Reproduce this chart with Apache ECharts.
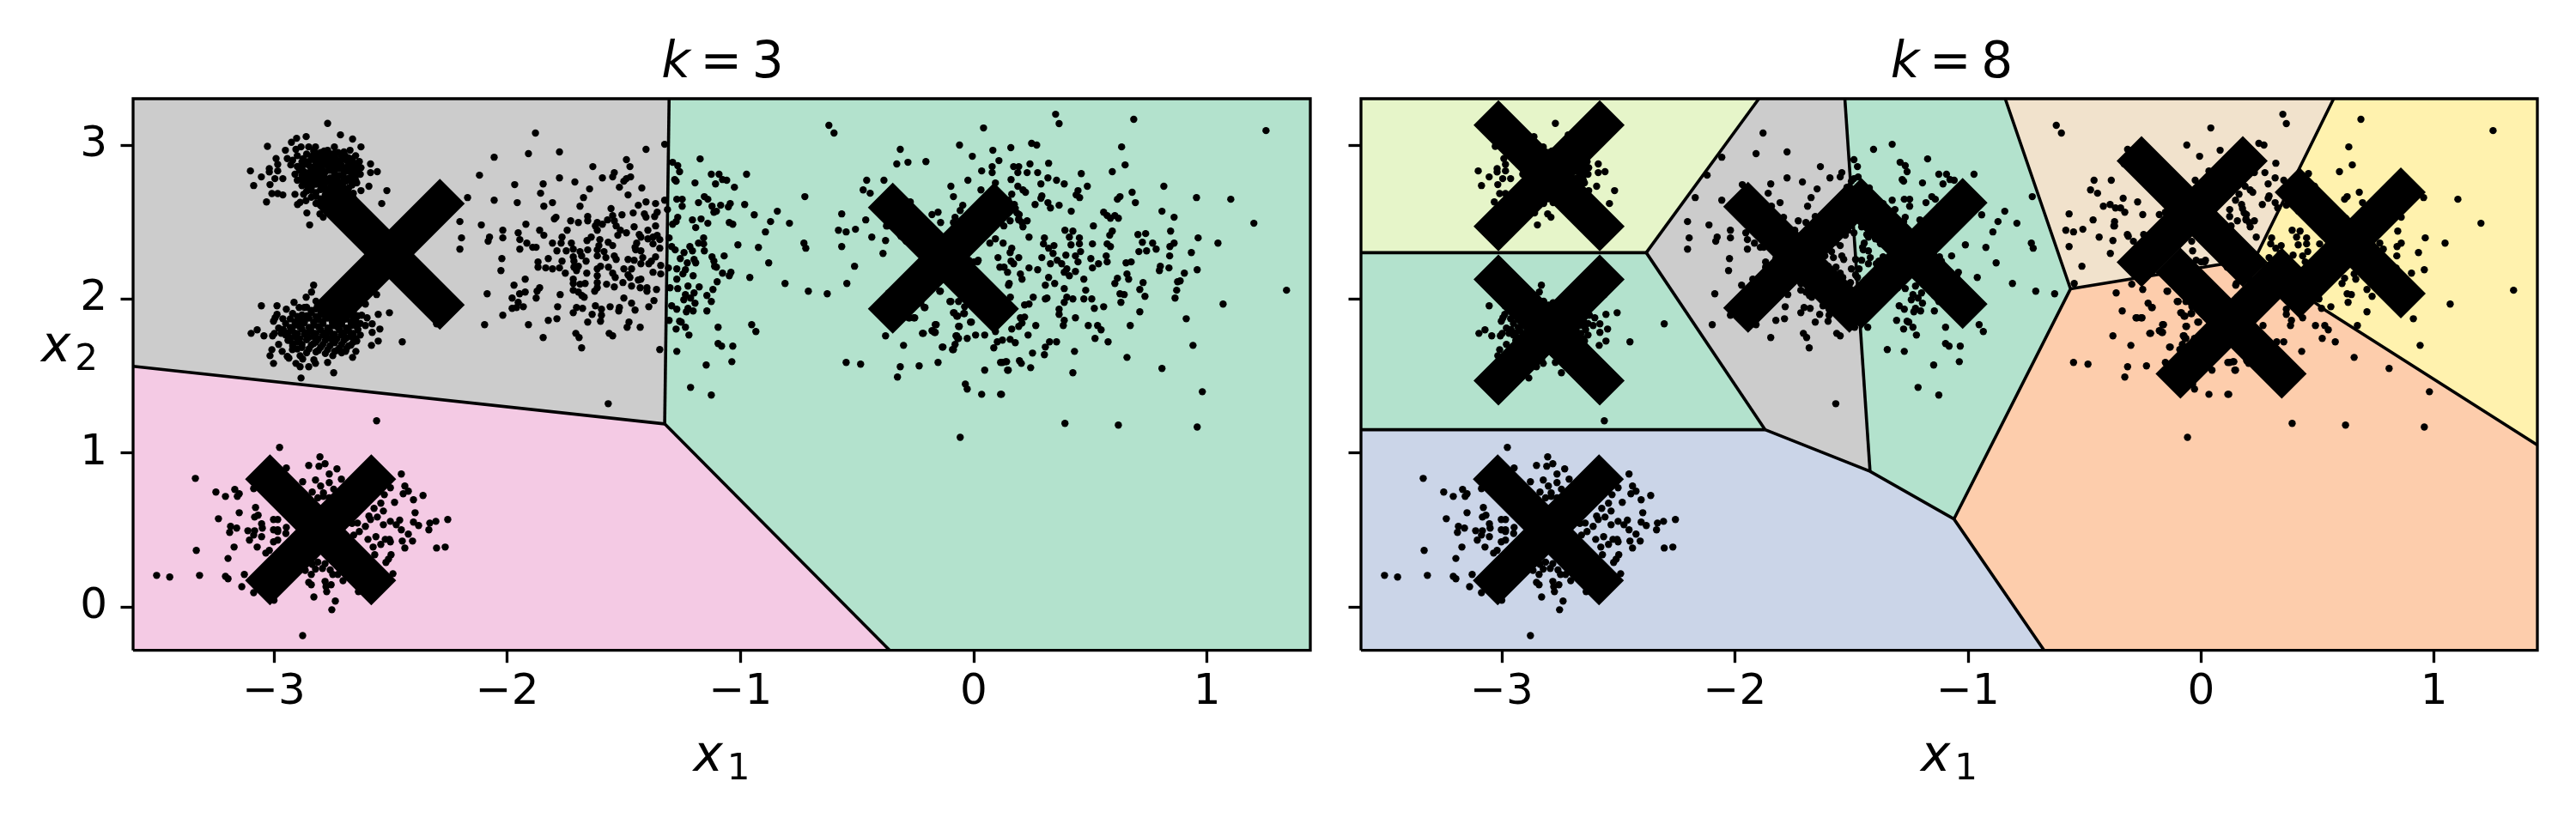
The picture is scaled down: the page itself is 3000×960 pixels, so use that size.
<!DOCTYPE html>
<html>
<head>
<meta charset="utf-8">
<style>html,body{margin:0;padding:0;background:#fff}#c{width:3000px;height:960px}</style>
<script src="https://cdn.jsdelivr.net/npm/echarts@6/dist/echarts.min.js"></script>
</head>
<body>
<div id="c"></div>
<script>
const xMin = -3.604, xMax = 1.443, yMin = -0.283, yMax = 3.3;
const xTicks = [-3, -2, -1, 0, 1];
const yTicks = [0, 1, 2, 3];
const panelTitles = ['3', '8'];

// Cluster centres
const centroidsK3 = [[-2.506, 2.29], [-0.13, 2.265], [-2.80, 0.50]];
const centroidsK8 = [[-2.797, 2.80], [-2.797, 1.797], [-2.80, 0.50], [-1.726, 2.27], [-1.24, 2.295], [-0.038, 2.567], [0.64, 2.364], [0.129, 1.842]];

// Decision regions
const regionsK3 = [
  {fill:'#cccccc', pts:[[xMin,yMax],[-1.306,yMax],[-1.325,1.188],[xMin,1.562]]},
  {fill:'#b3e2cd', pts:[[-1.306,yMax],[xMax,yMax],[xMax,yMin],[-0.36,yMin],[-1.325,1.188]]},
  {fill:'#f4cae4', pts:[[xMin,1.562],[-1.325,1.188],[-0.36,yMin],[xMin,yMin]]}
];
const regionsK8 = [
  {fill:'#e6f5c9', pts:[[xMin,yMax],[-1.897,yMax],[-2.38,2.30],[xMin,2.30]]},
  {fill:'#b3e2cd', pts:[[xMin,2.30],[-2.38,2.30],[-1.87,1.15],[xMin,1.15]]},
  {fill:'#cbd5e8', pts:[[xMin,1.15],[-1.87,1.15],[-1.42,0.88],[-1.06,0.57],[-0.673,yMin],[xMin,yMin]]},
  {fill:'#cccccc', pts:[[-2.38,2.30],[-1.897,yMax],[-1.528,yMax],[-1.42,0.88],[-1.87,1.15]]},
  {fill:'#b3e2cd', pts:[[-1.528,yMax],[-0.84,yMax],[-0.56,2.065],[-1.06,0.57],[-1.42,0.88]]},
  {fill:'#f1e2cc', pts:[[-0.84,yMax],[0.569,yMax],[0.231,2.26],[-0.56,2.065]]},
  {fill:'#fff2ae', pts:[[0.569,yMax],[xMax,yMax],[xMax,1.05],[0.534,1.926],[0.231,2.26]]},
  {fill:'#fdcdac', pts:[[-0.56,2.065],[0.231,2.26],[0.534,1.926],[xMax,1.05],[xMax,yMin],[-0.673,yMin],[-1.06,0.57]]}
];

// Boundaries between regions
const edgesK3 = [
  [[-1.306,yMax],[-1.325,1.188]],
  [[xMin,1.562],[-1.325,1.188]],
  [[-1.325,1.188],[-0.36,yMin]]
];
const edgesK8 = [
  [[xMin,2.30],[-2.38,2.30]],
  [[-1.897,yMax],[-2.38,2.30]],
  [[-2.38,2.30],[-1.87,1.15]],
  [[xMin,1.15],[-1.87,1.15]],
  [[-1.87,1.15],[-1.42,0.88],[-1.06,0.57],[-0.673,yMin]],
  [[-1.528,yMax],[-1.42,0.88]],
  [[-0.84,yMax],[-0.56,2.065],[-1.06,0.57]],
  [[-0.56,2.065],[0.231,2.26]],
  [[0.569,yMax],[0.231,2.26],[0.534,1.926],[xMax,1.05]]
];

// Points
const upperBlob = [
[-2.77,3.14],[-2.715,3.065],[-2.663,3.038],[-2.627,2.987],[-2.862,3.054],[-2.903,3.043],[-2.925,3.017],[-3.028,2.991],[-2.951,2.965],[-2.991,2.911],[-3.101,2.831],[-3.054,2.792],[-3.087,2.736],[-3.02,2.846],[-3.02,2.824],[-2.984,2.874],[-2.984,2.831],[-3.017,2.742],[-2.996,2.781],[-2.962,2.781],[-3.009,2.684],[-2.984,2.684],[-2.962,2.675],[-3.032,2.63],[-2.91,2.679],[-2.899,2.613],[-2.888,2.627],[-2.859,2.558],[-2.847,2.48],[-2.803,2.552],[-2.789,2.53],[-2.538,2.619],[-2.516,2.703],[-2.586,2.876],[-2.586,2.82],[-2.557,2.826],[-2.63,2.809],[-2.627,2.852],[-2.593,2.731],[-2.627,2.703],[-2.645,2.753],[-2.674,2.965],[-2.741,2.987],[-2.822,2.987],[-2.851,2.987],[-2.884,2.987],[-2.906,2.971],[-2.943,2.911],[-2.928,2.87],[-2.91,2.809],[-2.873,2.679],[-2.863,2.638],[-2.634,2.892],
[-2.83,2.96],[-2.80,2.95],[-2.77,2.965],[-2.74,2.945],[-2.70,2.955],[-2.90,2.93],[-2.86,2.94],[-2.82,2.92],[-2.79,2.935],[-2.75,2.92],[-2.71,2.93],[-2.68,2.915],[-2.65,2.93],[-2.92,2.90],[-2.88,2.89],[-2.84,2.905],[-2.80,2.89],[-2.77,2.905],[-2.73,2.885],[-2.69,2.90],[-2.66,2.885],[-2.90,2.86],[-2.86,2.875],[-2.83,2.855],[-2.79,2.87],[-2.75,2.85],[-2.71,2.865],[-2.67,2.85],[-2.64,2.865],[-2.89,2.835],[-2.85,2.82],[-2.81,2.84],[-2.78,2.825],[-2.74,2.83],[-2.70,2.82],[-2.66,2.835],[-2.88,2.80],[-2.84,2.79],[-2.80,2.805],[-2.76,2.785],[-2.72,2.80],[-2.68,2.785],[-2.65,2.80],[-2.90,2.77],[-2.86,2.76],[-2.82,2.775],[-2.78,2.755],[-2.75,2.77],[-2.71,2.755],[-2.67,2.765],[-2.88,2.735],[-2.84,2.725],[-2.80,2.74],[-2.76,2.72],[-2.72,2.735],[-2.68,2.72],[-2.86,2.70],[-2.82,2.69],[-2.78,2.705],[-2.74,2.69],[-2.70,2.70],[-2.66,2.685],[-2.84,2.66],[-2.80,2.65],[-2.76,2.665],[-2.72,2.655],[-2.68,2.66],[-2.82,2.62],[-2.78,2.625],[-2.74,2.61],[-2.70,2.625]
];
const upperBlobCore = [
[-2.815,2.945],[-2.785,2.96],[-2.755,2.94],[-2.725,2.95],[-2.695,2.93],[-2.84,2.925],[-2.805,2.91],[-2.77,2.925],[-2.735,2.91],[-2.70,2.915],[-2.665,2.91],[-2.875,2.91],[-2.855,2.89],[-2.82,2.885],[-2.785,2.9],[-2.75,2.885],[-2.715,2.895],[-2.68,2.875],[-2.645,2.88],[-2.88,2.855],[-2.845,2.86],[-2.81,2.87],[-2.77,2.865],[-2.735,2.865],[-2.695,2.85],[-2.655,2.85],[-2.87,2.825],[-2.835,2.83],[-2.795,2.845],[-2.76,2.835],[-2.72,2.845],[-2.68,2.83],[-2.645,2.83],[-2.86,2.795],[-2.82,2.805],[-2.785,2.79],[-2.74,2.805],[-2.70,2.785],[-2.665,2.8],[-2.88,2.775],[-2.84,2.765],[-2.80,2.77],[-2.765,2.76],[-2.73,2.775],[-2.69,2.765],[-2.65,2.77],[-2.86,2.74],[-2.82,2.745],[-2.785,2.73],[-2.745,2.745],[-2.705,2.73],[-2.665,2.74],[-2.84,2.705],[-2.80,2.71],[-2.76,2.695],[-2.72,2.71],[-2.685,2.695],[-2.82,2.665],[-2.78,2.675],[-2.74,2.66],[-2.70,2.665],[-2.66,2.655]
];
const lowerBlob = [
[-2.83,2.089],[-2.839,2.044],[-2.862,2.011],[-2.914,1.977],[-2.987,1.955],[-3.054,1.955],[-2.947,1.933],[-2.892,1.944],[-2.87,1.944],[-2.987,1.899],[-2.995,1.877],[-3.002,1.855],[-2.962,1.871],[-3.072,1.799],[-3.098,1.776],[-3.043,1.76],[-3.006,1.76],[-2.998,1.776],[-2.98,1.81],[-2.969,1.776],[-2.98,1.704],[-3.009,1.67],[-3.017,1.631],[-3.002,1.581],[-2.965,1.659],[-2.943,1.626],[-2.936,1.615],[-2.921,1.67],[-2.906,1.581],[-2.888,1.559],[-2.888,1.631],[-2.877,1.609],[-2.851,1.559],[-2.822,1.581],[-2.829,1.604],[-2.77,1.587],[-2.884,1.486],[-2.744,1.52],[-2.663,1.62],[-2.649,1.659],[-2.693,1.659],[-2.748,1.631],[-2.582,1.698],[-2.553,1.726],[-2.45,1.721],[-2.546,1.804],[-2.579,1.782],[-2.601,1.877],[-2.553,1.899],[-2.505,1.91],[-2.56,2.028],[-2.608,1.966],[-2.624,1.894],[-2.579,1.838],[-2.608,1.827],[-2.645,1.726],[-2.303,1.838],[-2.17,2.658],
[-2.82,1.985],[-2.78,1.975],[-2.74,1.99],[-2.86,1.945],[-2.82,1.935],[-2.78,1.95],[-2.74,1.94],[-2.70,1.955],[-2.66,1.94],[-2.92,1.905],[-2.88,1.895],[-2.84,1.91],[-2.80,1.90],[-2.76,1.91],[-2.72,1.895],[-2.68,1.905],[-2.64,1.89],[-2.93,1.87],[-2.89,1.86],[-2.85,1.875],[-2.81,1.865],[-2.77,1.875],[-2.73,1.86],[-2.69,1.87],[-2.65,1.86],[-2.95,1.84],[-2.91,1.83],[-2.87,1.845],[-2.83,1.83],[-2.79,1.84],[-2.75,1.825],[-2.71,1.835],[-2.67,1.825],[-2.63,1.84],[-2.96,1.80],[-2.92,1.79],[-2.88,1.805],[-2.84,1.79],[-2.80,1.80],[-2.76,1.785],[-2.72,1.80],[-2.68,1.79],[-2.64,1.80],[-2.95,1.765],[-2.91,1.755],[-2.87,1.77],[-2.83,1.755],[-2.79,1.765],[-2.75,1.75],[-2.71,1.765],[-2.67,1.755],[-2.63,1.765],[-2.94,1.73],[-2.90,1.72],[-2.86,1.735],[-2.82,1.72],[-2.78,1.73],[-2.74,1.715],[-2.70,1.73],[-2.66,1.72],[-2.92,1.695],[-2.88,1.685],[-2.84,1.70],[-2.80,1.685],[-2.76,1.695],[-2.72,1.68],[-2.68,1.695],[-2.86,1.65],[-2.82,1.655],[-2.78,1.645],[-2.74,1.66],[-2.71,1.65]
];
const lowerBlobCore = [
[-2.80,1.96],[-2.76,1.965],[-2.72,1.93],[-2.84,1.925],[-2.80,1.925],[-2.76,1.93],[-2.70,1.92],[-2.66,1.915],[-2.90,1.885],[-2.86,1.89],[-2.82,1.885],[-2.78,1.89],[-2.74,1.885],[-2.70,1.885],[-2.66,1.88],[-2.91,1.85],[-2.87,1.855],[-2.83,1.85],[-2.79,1.855],[-2.75,1.85],[-2.71,1.855],[-2.67,1.85],[-2.93,1.815],[-2.89,1.82],[-2.85,1.815],[-2.81,1.82],[-2.77,1.81],[-2.73,1.82],[-2.69,1.81],[-2.65,1.825],[-2.94,1.78],[-2.90,1.775],[-2.86,1.78],[-2.82,1.775],[-2.78,1.78],[-2.74,1.77],[-2.70,1.78],[-2.66,1.775],[-2.93,1.745],[-2.89,1.74],[-2.85,1.75],[-2.81,1.74],[-2.77,1.745],[-2.73,1.74],[-2.69,1.745],[-2.65,1.74],[-2.92,1.71],[-2.88,1.705],[-2.83,1.71],[-2.79,1.705],[-2.75,1.73],[-2.71,1.705],[-2.67,1.70],[-2.90,1.675],[-2.85,1.675],[-2.81,1.665],[-2.77,1.67],[-2.73,1.665],[-2.69,1.675]
];
const bottomBlob = [
[-2.56,1.208],[-2.976,1.035],[-2.803,0.974],[-2.781,0.929],[-2.807,0.913],[-2.851,0.918],[-2.73,0.896],[-2.947,0.901],[-2.763,0.862],[-2.454,0.862],[-3.337,0.834],[-2.822,0.823],[-2.711,0.829],[-2.763,0.807],[-2.877,0.812],[-2.439,0.784],[-2.8,0.784],[-2.424,0.751],[-3.249,0.745],[-3.168,0.762],[-3.087,0.768],[-3.149,0.734],[-3.157,0.717],[-3.208,0.717],[-2.836,0.745],[-2.788,0.74],[-2.788,0.717],[-2.744,0.764],[-2.501,0.773],[-2.527,0.728],[-2.446,0.734],[-2.361,0.723],[-2.402,0.695],[-2.483,0.678],[-2.542,0.673],[-2.571,0.639],[-2.531,0.622],[-3.079,0.645],[-3.149,0.611],[-2.395,0.611],[-3.068,0.595],[-3.083,0.583],[-3.238,0.572],[-2.593,0.589],[-2.557,0.583],[-2.586,0.567],[-2.255,0.567],[-3.002,0.567],[-2.984,0.567],[-2.501,0.555],[-2.461,0.563],[-2.306,0.555],[-2.332,0.544],[-2.402,0.55],[-2.531,0.533],[-2.476,0.533],[-2.38,0.528],[-3.053,0.539],[-3.186,0.522],[-3.16,0.511],[-3.19,0.483],[-3.112,0.494],[-2.336,0.5],[-2.454,0.5],[-3.083,0.494],[-3.05,0.511],[-3.002,0.5],[-2.984,0.5],[-2.947,0.516],[-2.949,0.476],[-2.608,0.522],[-2.642,0.544],[-2.634,0.489],[-2.424,0.472],[-3.087,0.466],[-3.053,0.455],[-2.984,0.488],[-2.563,0.455],[-2.523,0.438],[-2.505,0.438],[-2.501,0.422],[-3.105,0.433],[-2.45,0.427],[-2.406,0.427],[-3.002,0.422],[-2.984,0.433],[-2.542,0.405],[-2.575,0.388],[-2.597,0.438],[-3.072,0.388],[-3.171,0.388],[-2.439,0.382],[-3.333,0.366],[-2.303,0.382],[-2.266,0.388],[-3.02,0.366],[-3.035,0.349],[-2.568,0.338],[-2.498,0.338],[-3.197,0.314],[-2.509,0.31],[-2.52,0.288],[-2.822,0.245],[-2.792,0.249],[-2.759,0.239],[-2.866,0.237],[-2.836,0.276],[-3.127,0.21],[-2.84,0.21],[-2.748,0.21],[-2.726,0.21],[-2.49,0.215],[-3.319,0.204],[-3.503,0.204],[-3.447,0.193],[-3.208,0.198],[-3.197,0.182],[-2.704,0.17],[-2.851,0.159],[-2.84,0.143],[-2.781,0.165],[-2.755,0.143],[-2.777,0.131],[-2.774,0.098],[-3.138,0.131],[-3.087,0.092],[-2.638,0.098],[-2.829,0.064],[-2.737,0.037],[-3.0,0.042],[-2.752,-0.019],[-2.877,-0.187],[-2.812,0.708],[-2.763,0.708],[-2.665,0.541],[-2.658,0.466],[-2.812,0.29],[-2.781,0.28]
];
const middleCluster = [
[-1.879,3.077],[-1.909,2.943],[-1.776,2.954],[-2.056,2.92],[-2.119,2.803],[-1.405,2.971],[-1.489,2.904],[-1.474,2.859],[-1.633,2.859],[-1.541,2.82],[-1.548,2.792],[-1.592,2.786],[-1.776,2.786],[-1.71,2.759],[-1.846,2.747],[-1.968,2.742],[-1.471,2.792],[-1.489,2.781],[-1.5,2.764],[-1.519,2.725],[-1.423,2.72],[-1.647,2.714],[-1.857,2.686],[-1.482,2.675],[-1.673,2.658],[-2.056,2.641],[-1.957,2.625],[-1.806,2.625],[-1.843,2.602],[-1.688,2.602],[-1.405,2.63],[-1.438,2.608],[-1.364,2.619],[-1.555,2.586],[-1.357,2.563],[-1.46,2.558],[-1.508,2.546],[-1.412,2.552],[-1.405,2.53],[-1.368,2.535],[-1.655,2.535],[-1.791,2.53],[-1.798,2.519],[-1.548,2.541],[-1.541,2.507],[-1.57,2.513],[-1.728,2.507],[-1.695,2.496],[-1.655,2.507],[-1.614,2.496],[-1.592,2.485],[-1.622,2.474],[-1.533,2.474],[-2.203,2.502],[-2.111,2.48],[-1.92,2.485],[-1.456,2.468],[-1.364,2.474],[-1.614,2.446],[-1.515,2.446],[-1.489,2.429],[-1.861,2.446],[-1.743,2.446],[-1.397,2.446],[-1.953,2.429],[-2.019,2.446],[-1.526,2.413],[-1.434,2.418],[-1.843,2.413],[-1.357,2.413],[-1.765,2.401],[-1.64,2.401],[-1.427,2.401],[-1.397,2.39],[-1.375,2.401],[-2.196,2.396],[-2.076,2.401],[-2.082,2.374],[-2.019,2.396],[-1.946,2.385],[-1.658,2.379],[-1.603,2.385],[-1.346,2.385],[-1.567,2.368],[-1.916,2.362],[-1.806,2.362],[-1.769,2.362],[-1.725,2.362],[-1.445,2.362],[-1.375,2.357],[-1.607,2.346],[-1.548,2.346],[-1.891,2.335],[-1.876,2.335],[-1.452,2.335],[-1.346,2.329],[-2.203,2.323],[-1.946,2.323],[-1.787,2.312],[-1.747,2.312],[-1.717,2.323],[-1.688,2.307],[-1.655,2.318],[-1.614,2.318],[-1.585,2.307],[-1.449,2.318],[-1.427,2.312],[-1.717,2.273],[-1.681,2.279],[-1.614,2.279],[-1.577,2.268],[-1.541,2.279],[-1.364,2.273],[-1.419,2.268],[-2.023,2.262],[-1.824,2.262],[-1.533,2.256],[-1.482,2.256],[-1.456,2.251],[-1.382,2.245],[-1.868,2.24],[-1.765,2.245],[-1.714,2.245],[-1.662,2.245],[-1.427,2.228],[-1.393,2.228],[-1.342,2.217],[-1.868,2.206],[-1.835,2.201],[-1.806,2.195],[-1.776,2.201],[-1.714,2.206],[-1.695,2.212],[-1.6,2.212],[-1.566,2.206],[-1.614,2.195],[-1.5,2.195],[-1.467,2.195],[-2.027,2.184],[-1.703,2.184],[-1.751,2.167],[-1.659,2.167],[-1.548,2.167],[-1.614,2.15],[-1.482,2.156],[-1.375,2.173],[-1.342,2.162],[-1.537,2.139],[-1.474,2.139],[-1.923,2.128],[-1.717,2.128],[-1.427,2.128],[-1.438,2.122],[-1.614,2.106],[-1.504,2.106],[-1.717,2.1],[-1.666,2.1],[-1.971,2.089],[-1.688,2.095],[-1.574,2.095],[-1.467,2.083],[-1.541,2.078],[-1.861,2.072],[-1.43,2.072],[-1.401,2.072],[-1.401,2.05],[-1.36,2.061],[-1.614,2.072],[-1.717,2.056],[-1.625,2.05],[-1.872,2.05],[-1.923,2.044],[-1.695,2.044],[-1.947,2.033],[-2.086,2.033],[-1.773,2.028],[-1.68,2.022],[-1.67,2.011],[-1.979,2.005],[-1.876,2.005],[-1.5,2.005],[-1.371,1.989],[-1.953,1.977],[-1.467,1.972],[-1.931,1.949],[-1.784,1.949],[-1.622,1.955],[-1.559,1.949],[-1.393,1.949],[-1.979,1.938],[-1.96,1.944],[-1.703,1.944],[-1.677,1.938],[-1.596,1.933],[-1.519,1.944],[-1.522,1.922],[-1.452,1.927],[-1.717,1.91],[-1.596,1.894],[-2.019,1.894],[-1.636,1.899],[-1.787,1.871],[-1.824,1.86],[-1.6,1.855],[-1.655,1.849],[-1.478,1.849],[-2.097,1.832],[-1.909,1.832],[-1.486,1.816],[-1.43,1.816],[-1.706,1.776],[-1.563,1.776],[-1.548,1.76],[-1.846,1.749],[-1.692,1.749],[-1.681,1.682],[-1.346,1.671],[-1.567,1.319]
];
const centreCluster = [
[-0.621,3.127],[-0.599,3.077],[0.042,3.11],[-0.061,2.999],[-1.325,3.004],[-0.315,2.971],[-1.173,2.909],[-0.006,2.926],[-1.291,2.887],[-1.269,2.865],[-0.33,2.876],[-0.282,2.887],[-0.205,2.892],[-1.261,2.826],[0.034,2.831],[-1.125,2.809],[-1.092,2.809],[-0.974,2.809],[-1.282,2.775],[-1.276,2.764],[-1.195,2.753],[-1.107,2.747],[-1.077,2.775],[-1.059,2.77],[-1.026,2.725],[-0.459,2.77],[-0.385,2.77],[-0.025,2.77],[-0.098,2.731],[-0.474,2.708],[-0.444,2.686],[0.031,2.708],[-0.724,2.664],[-0.087,2.664],[-1.325,2.641],[-1.273,2.647],[-1.25,2.647],[-1.155,2.664],[-1.14,2.647],[-1.18,2.625],[-1.25,2.602],[-1.122,2.602],[-1.085,2.608],[-1.044,2.619],[-1.052,2.597],[-0.982,2.613],[-1.313,2.58],[-1.103,2.569],[-1.114,2.563],[-0.842,2.569],[-0.941,2.546],[-0.566,2.552],[-1.269,2.53],[-1.276,2.502],[-1.291,2.485],[-1.206,2.513],[-1.169,2.519],[-0.871,2.502],[-0.463,2.513],[-1.14,2.491],[-1.048,2.496],[-1.033,2.485],[-0.79,2.491],[-1.192,2.463],[-0.507,2.452],[-0.58,2.446],[-0.547,2.435],[-0.893,2.435],[-0.374,2.474],[-1.306,2.396],[-1.158,2.396],[-0.437,2.401],[-0.378,2.379],[-1.18,2.362],[-1.158,2.357],[-1.011,2.351],[-0.728,2.362],[-0.72,2.329],[-0.566,2.34],[-1.217,2.34],[-1.295,2.34],[-1.206,2.312],[-0.923,2.334],[-1.28,2.318],[-1.242,2.301],[-1.155,2.312],[-0.389,2.295],[-1.07,2.279],[-1.122,2.273],[-1.258,2.262],[-1.199,2.256],[-1.114,2.245],[-1.228,2.234],[-1.192,2.234],[-0.879,2.234],[-1.111,2.212],[-1.103,2.206],[-0.511,2.212],[-1.309,2.201],[-1.273,2.195],[-1.236,2.189],[-1.041,2.173],[-1.077,2.167],[-1.247,2.162],[-1.048,2.15],[-1.203,2.15],[-0.96,2.139],[-1.273,2.128],[-1.1,2.111],[-0.809,2.1],[-0.544,2.1],[-1.225,2.083],[-1.177,2.078],[-1.302,2.072],[-1.269,2.067],[-1.118,2.061],[-0.709,2.05],[-0.628,2.033],[-1.199,2.039],[-1.236,2.028],[-1.144,2.022],[-1.214,2.005],[-1.243,1.994],[-1.125,1.983],[-1.195,1.972],[-1.295,1.955],[-1.273,1.933],[-1.225,1.938],[-1.203,1.922],[-1.232,1.916],[-1.144,1.922],[-1.306,1.86],[-1.261,1.855],[-1.254,1.849],[-1.236,1.816],[-1.276,1.804],[-1.096,1.816],[-0.952,1.832],[-0.934,1.788],[-1.221,1.765],[-0.378,1.76],[-1.096,1.71],[-1.081,1.693],[-1.033,1.693],[-0.301,1.698],[-1.273,1.659],[-1.037,1.592],[-1.147,1.57],[-0.547,1.587],[-0.485,1.576],[-0.315,1.559],[-0.327,1.492],[-0.234,1.565],[-0.153,1.587],[-1.214,1.425],[-1.125,1.375],[-0.036,1.447],[-0.028,1.414],[0.034,1.38],[-0.058,1.101],[0.047,1.537],
[-0.179,2.547],[-0.153,2.563],[-0.142,2.496],[-0.047,2.608],[-0.058,2.574],[-0.08,2.53],[-0.087,2.496],[-0.102,1.983],[-0.065,1.983],[-0.212,1.944],[-0.257,1.877],[-0.279,1.877],[-0.146,2.05],[0.016,2.24],[-0.039,1.949],[-0.087,1.91],[-0.073,1.888],[-0.043,1.905],[-0.014,1.849],[-0.065,1.821],[-0.165,1.832],[-0.179,1.793],[-0.168,1.782],[-0.22,1.776],[-0.076,1.76],[-0.069,1.743],[-0.028,1.743],[0.008,1.765],[0.047,1.765],[-0.08,1.704],[-0.091,1.671],[-0.135,1.687],
[-0.334,2.653],[-0.272,2.63],[-0.25,2.547],[-0.419,2.602],[-0.39,2.613],[-0.367,2.591],[-0.345,2.591],[-0.327,2.563],[-0.371,2.502],[-0.371,2.474],[-0.316,2.418],[-0.312,2.407],[-0.29,2.374],[-0.246,2.418],[-0.036,2.312],[-0.04,2.374],[-0.021,2.251],[0.0,2.24],[0.019,2.251],[-0.297,2.095],[-0.25,2.061],[-0.364,2.039],[-0.338,1.922],[-0.275,1.877],[-0.253,1.877],[-0.227,1.972],[-0.209,1.944],[-0.143,2.05],[-0.098,1.983],[-0.161,1.832],[-0.172,1.788],[-0.165,1.782],[-0.216,1.776],[-0.084,1.91],[-0.069,1.888],[-0.04,1.905],[-0.01,1.849],[-0.062,1.821],[-0.073,1.76],[-0.065,1.743],[-0.132,1.687],[-0.087,1.671],[0.123,1.587],[0.141,1.592],[0.148,1.537],[0.119,1.38]
];
const rightCluster = [
[0.351,3.199],[0.366,3.138],[0.686,3.166],[1.253,3.093],[0.082,2.965],[0.159,2.982],[0.248,3.01],[0.27,2.999],[0.634,2.987],[0.108,2.898],[0.079,2.859],[0.079,2.82],[0.171,2.859],[0.193,2.859],[0.241,2.876],[0.321,2.881],[0.649,2.87],[0.189,2.82],[0.229,2.82],[0.274,2.82],[0.461,2.814],[0.594,2.826],[0.318,2.786],[0.355,2.77],[0.16,2.775],[0.093,2.753],[0.288,2.747],[0.388,2.747],[0.487,2.731],[0.815,2.731],[0.189,2.731],[0.211,2.708],[0.222,2.692],[0.447,2.703],[0.679,2.692],[0.163,2.68],[0.439,2.675],[0.454,2.658],[0.292,2.669],[0.288,2.653],[0.955,2.658],[1.102,2.647],[0.627,2.664],[0.616,2.647],[0.693,2.625],[0.263,2.613],[0.318,2.625],[0.329,2.591],[0.366,2.608],[0.418,2.569],[0.807,2.569],[0.557,2.563],[0.572,2.541],[0.586,2.524],[0.605,2.541],[0.62,2.524],[0.859,2.53],[0.229,2.507],[0.193,2.513],[0.211,2.468],[0.156,2.507],[0.513,2.474],[1.201,2.491],[0.391,2.446],[0.425,2.44],[0.594,2.44],[0.583,2.413],[0.844,2.44],[0.704,2.418],[0.737,2.424],[0.237,2.401],[0.303,2.396],[0.41,2.401],[0.453,2.396],[0.453,2.357],[0.962,2.396],[0.126,2.362],[0.093,2.39],[0.069,2.362],[0.299,2.357],[0.344,2.346],[0.509,2.357],[0.572,2.357],[0.586,2.34],[0.723,2.368],[0.767,2.362],[0.859,2.362],[0.841,2.34],[1.047,2.362],[0.163,2.329],[0.156,2.301],[0.321,2.329],[0.417,2.351],[0.458,2.307],[0.34,2.295],[0.708,2.307],[0.741,2.312],[0.782,2.323],[0.933,2.301],[0.395,2.284],[0.436,2.279],[0.568,2.279],[0.84,2.279],[0.104,2.268],[0.193,2.268],[0.292,2.268],[0.502,2.262],[0.358,2.251],[0.447,2.24],[0.572,2.24],[0.16,2.245],[0.171,2.228],[0.377,2.228],[0.329,2.228],[0.535,2.228],[0.653,2.234],[0.675,2.24],[0.112,2.206],[0.13,2.206],[0.237,2.201],[0.274,2.189],[0.509,2.201],[0.8,2.212],[0.796,2.184],[0.837,2.201],[0.958,2.189],[0.145,2.173],[0.2,2.162],[0.399,2.195],[0.388,2.173],[0.436,2.178],[0.903,2.167],[0.41,2.15],[0.657,2.162],[0.207,2.128],[0.321,2.139],[0.472,2.128],[0.616,2.134],[0.664,2.128],[0.885,2.117],[0.874,2.111],[0.347,2.1],[0.307,2.089],[0.605,2.1],[0.726,2.106],[0.152,2.1],[0.149,2.089],[0.388,2.067],[0.48,2.056],[0.712,2.061],[0.87,2.056],[1.341,2.056],[0.627,2.033],[0.645,2.028],[0.734,2.016],[0.255,2.011],[0.157,2.011],[0.314,2.005],[0.307,2.0],[0.399,2.011],[0.425,2.0],[0.472,2.0],[0.506,2.0],[0.863,2.005],[0.388,1.977],[0.631,1.977],[1.069,1.966],[0.237,1.966],[0.218,1.961],[0.557,1.949],[0.517,1.938],[0.366,1.933],[0.712,1.916],[0.366,1.899],[0.218,1.882],[0.2,1.877],[0.436,1.877],[0.911,1.871],[0.388,1.86],[0.207,1.843],[0.384,1.827],[0.193,1.821],[0.266,1.827],[0.491,1.827],[0.531,1.827],[0.671,1.827],[0.163,1.804],[0.546,1.799],[0.233,1.765],[0.093,1.788],[0.52,1.743],[0.123,1.732],[0.101,1.721],[0.156,1.737],[0.178,1.715],[0.325,1.721],[0.355,1.721],[0.576,1.721],[0.94,1.698],[0.086,1.682],[0.307,1.687],[0.432,1.659],[0.252,1.648],[0.303,1.637],[0.657,1.62],[0.115,1.587],[0.137,1.592],[0.196,1.598],[0.204,1.581],[0.244,1.553],[0.145,1.537],[0.807,1.548],[0.425,1.52],[0.98,1.397],[0.115,1.38],[0.391,1.191],[0.62,1.18],[0.958,1.168],
[0.148,2.641],[0.123,2.58],[0.123,2.535],[0.174,2.613],[0.178,2.586],[0.185,2.558],[0.195,2.548],[0.193,2.52],[0.207,2.496],[0.129,2.474]
];
const points = [].concat(upperBlob, upperBlobCore, lowerBlob, lowerBlobCore, bottomBlob, middleCluster, centreCluster, rightCluster);

const FONT = '"DejaVu Sans"';
const CROSS = 'path://M88 59 L147 0 L176 29 L117 88 L176 147 L147 176 L88 117 L29 176 L0 147 L59 88 L0 29 L29 0 Z';
const minus = v => String(v).replace('-', '\u2212');

function regionSeries(list, axis) {
  return {
    type:'custom', coordinateSystem:'cartesian2d', xAxisIndex:axis, yAxisIndex:axis, silent:true, z:1,
    data:list.map((_, i) => [i]),
    renderItem:(p, api) => {
      const r = list[api.value(0)];
      return {type:'polygon', shape:{points:r.pts.map(q => api.coord(q))}, style:{fill:r.fill, stroke:r.fill, lineWidth:0.5}};
    }
  };
}
function lineSeries(list, axis, width, z) {
  return {
    type:'custom', coordinateSystem:'cartesian2d', xAxisIndex:axis, yAxisIndex:axis, silent:true, z:z,
    data:list.map((_, i) => [i]),
    renderItem:(p, api) => ({type:'polyline', shape:{points:list[api.value(0)].map(q => api.coord(q))},
      style:{fill:null, stroke:'#000', lineWidth:width, lineJoin:'miter'}})
  };
}
const frame = [[[xMin,yMin],[xMax,yMin],[xMax,yMax],[xMin,yMax],[xMin,yMin]]];
function panel(i, regions, edges, centroids) {
  return [
    regionSeries(regions, i),
    lineSeries(edges, i, 3.6, 2),
    {type:'scatter', xAxisIndex:i, yAxisIndex:i, data:points, symbol:'circle', symbolSize:8.4, silent:true, z:3,
     itemStyle:{color:'#000', opacity:1}},
    {type:'scatter', xAxisIndex:i, yAxisIndex:i, data:centroids, symbol:CROSS, symbolSize:176, silent:true, z:4,
     itemStyle:{color:'#000', opacity:1}},
    lineSeries(frame, i, 3.3, 5)
  ];
}
const mathRich = {
  x:{fontFamily:FONT, fontStyle:'italic', fontWeight:'normal', fontSize:58, color:'#000'},
  s:{fontFamily:FONT, fontWeight:'normal', fontSize:42, color:'#000', padding:[28,0,0,5]},
  i:{fontFamily:FONT, fontStyle:'italic', fontWeight:'normal', fontSize:58, color:'#000'},
  n:{fontFamily:FONT, fontWeight:'normal', fontSize:58, color:'#000'}
};
function xAxis(i) {
  return {type:'value', gridIndex:i, min:xMin, max:xMax, splitLine:{show:false},
    name:'{x|x}{s|1}', nameLocation:'middle', nameGap:90,
    nameTextStyle:{rich:mathRich},
    axisLine:{show:false, onZero:false},
    axisTick:{show:true, length:14.5, lineStyle:{color:'#000', width:3.3}, customValues:xTicks},
    axisLabel:{show:true, margin:24, color:'#000', fontFamily:FONT, fontSize:50, customValues:xTicks, formatter:minus, hideOverlap:false}};
}
function yAxis(i) {
  return {type:'value', gridIndex:i, min:yMin, max:yMax, splitLine:{show:false},
    axisLine:{show:false, onZero:false},
    axisTick:{show:true, length:14.5, lineStyle:{color:'#000', width:3.3}, customValues:yTicks},
    axisLabel:{show:i === 0, margin:30, color:'#000', fontFamily:FONT, fontSize:50, padding:[6,0,0,0], customValues:yTicks, hideOverlap:false}};
}
const chart = echarts.init(document.getElementById('c'), null, {renderer:'canvas', width:3000, height:960, devicePixelRatio:1});
chart.setOption({
  animation:false,
  backgroundColor:'#fff',
  title:[
    {text:'{i|k}{n|\u2009=\u2009'+panelTitles[0]+'}', left:836.5, top:41, textAlign:'center', textStyle:{rich:mathRich, fontWeight:'normal'}},
    {text:'{i|k}{n|\u2009=\u2009'+panelTitles[1]+'}', left:2268, top:41, textAlign:'center', textStyle:{rich:mathRich, fontWeight:'normal'}},
    {text:'{x|x}{s|2}', left:43, top:366, textStyle:{rich:mathRich, fontWeight:'normal'}}
  ],
  grid:[
    {left:155, top:115, width:1371, height:642.7, containLabel:false},
    {left:1585, top:115, width:1370, height:642.7, containLabel:false}
  ],
  xAxis:[xAxis(0), xAxis(1)],
  yAxis:[yAxis(0), yAxis(1)],
  series:[].concat(panel(0, regionsK3, edgesK3, centroidsK3), panel(1, regionsK8, edgesK8, centroidsK8))
});
</script>
</body>
</html>
